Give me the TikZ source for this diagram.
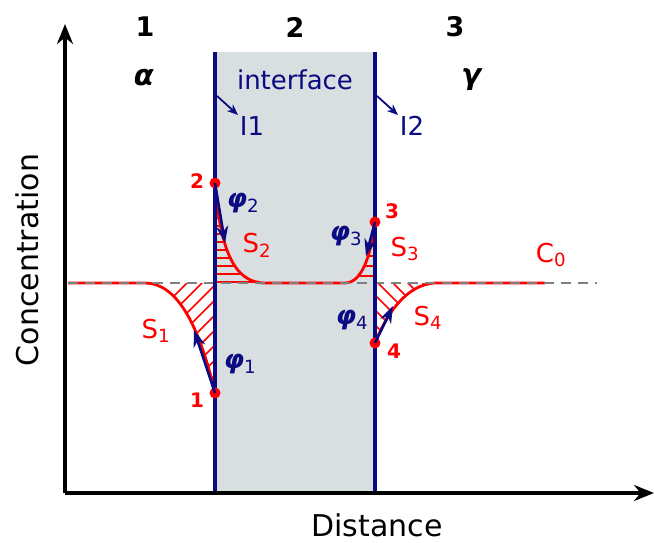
\documentclass[tikz,border=0pt]{standalone}
\usepackage{fontspec}
\setmainfont{DejaVu Sans}
\usetikzlibrary{arrows.meta}
\definecolor{wallblue}{RGB}{10,10,130}
\definecolor{layergray}{RGB}{217,222,225}
\definecolor{profred}{RGB}{255,0,0}
\definecolor{refgray}{RGB}{128,128,128}

\newcommand{\phibf}{\textbf{\textit{φ}}}

\begin{document}
\begin{tikzpicture}[
  x=1pt, y=-1pt,
  >=Stealth,
  axis/.style={line width=4pt, -{Stealth[length=20pt, width=16pt]}},
  wall/.style={wallblue, line width=3.8pt},
  profile/.style={profred, line width=2.8pt},
  level/.style={refgray, line width=2.3pt, dash pattern=on 10pt off 7pt},
  flux/.style={wallblue, line width=2.6pt, -{Stealth[length=17pt, width=12pt]}},
  pointer/.style={wallblue, line width=1.8pt, -{Stealth[length=11pt, width=9pt]}},
  hatch/.style={profred, line width=1.5pt},
  dot/.style={circle, fill=profred, inner sep=0pt, minimum size=11pt},
  ptnum/.style={text=profred, font=\fontsize{20}{24}\selectfont\bfseries},
  region/.style={font=\fontsize{27}{32}\selectfont\bfseries},
  surf/.style={text=profred, font=\fontsize{26}{30}\selectfont},
  fluxlab/.style={text=wallblue, font=\fontsize{26}{30}\selectfont},
  axislab/.style={font=\fontsize{30}{35}\selectfont},
]
\useasboundingbox[fill=white] (0,0) rectangle (654,543);

% interface layer
\fill[layergray] (215,52) rectangle (375,493);

% hatched areas S1..S4
\begin{scope}
  \clip (215,283) -- (145,283) .. controls (175,283) and (198,320) .. (215,393) -- cycle;
  \foreach \k in {0,...,10}
    \draw[hatch] (70+\k*15,400) -- ++(140,-140);
\end{scope}
\begin{scope}
  \clip (215,183) .. controls (220,245) and (232,283) .. (265,283) -- (215,283) -- cycle;
  \foreach \h in {186,194,...,282}
    \draw[hatch] (210,\h) -- (270,\h);
\end{scope}
\begin{scope}
  \clip (345,283) .. controls (362,283) and (371,255) .. (375,222) -- (375,283) -- cycle;
  \foreach \h in {226,236,...,276}
    \draw[hatch] (340,\h) -- (380,\h);
\end{scope}
\begin{scope}
  \clip (375,343) .. controls (385,318) and (405,283) .. (437,283) -- (375,283) -- cycle;
  \foreach \k in {0,...,10}
    \draw[hatch] (300+\k*15,250) -- ++(120,120);
\end{scope}

% concentration profile
\draw[profile] (68,283) -- (145,283) .. controls (175,283) and (198,320) .. (215,393);
\draw[profile] (215,183) .. controls (220,245) and (232,283) .. (265,283) -- (345,283)
  .. controls (362,283) and (371,255) .. (375,222);
\draw[profile] (375,343) .. controls (385,318) and (405,283) .. (437,283) -- (545,283);
\draw[level] (68,283) -- (597,283);

% interfaces I1, I2
\draw[wall] (215,52) -- (215,493);
\draw[wall] (375,52) -- (375,493);

% axes
\coordinate (origin) at (65,493);
\coordinate (ytop) at (65,24);
\coordinate (xend) at (654,493);
\draw[axis] (origin) -- (ytop);
\draw[axis] (origin) -- (xend);
\node[axislab, rotate=90] (conc) at (27,260) {Concentration};
\node[axislab] (dist) at (377,525) {Distance};

% phases
\node[region] (ph1) at (145,27) {1};
\node[region] (ph2) at (295,27) {2};
\node[region] (ph3) at (455,27) {3};
\node[region, font=\fontsize{29}{34}\selectfont\bfseries] (alpha) at (144,78) {\textit{α}};
\node[region, font=\fontsize{29}{34}\selectfont\bfseries] (gamma) at (472,80) {\textit{γ}};
\node[fluxlab] (iface) at (295,80) {interface};

% interface labels
\node[fluxlab] (i1) at (252,126) {I1};
\node[fluxlab] (i2) at (412,126) {I2};
\coordinate (w1) at (217,96);
\coordinate (w2) at (377,96);
\draw[pointer] (w1) -- (238,115);
\draw[pointer] (w2) -- (398,115);

% points on the profile
\node[dot] (p1) at (215,393) {};
\node[dot] (p2) at (215,183) {};
\node[dot] (p3) at (375,222) {};
\node[dot] (p4) at (375,343) {};
\node[ptnum] (n1) at (197,400) {1};
\node[ptnum] (n2) at (197,181) {2};
\node[ptnum] (n3) at (392,211) {3};
\node[ptnum] (n4) at (394,351) {4};

% fluxes
\coordinate (f1) at (194,330);
\coordinate (f2) at (225,243);
\coordinate (f3) at (366,256);
\coordinate (f4) at (393,306);
\draw[flux] (p1.center) -- (f1);
\draw[flux] (p2.center) -- (f2);
\draw[flux] (p3.center) -- (f3);
\draw[flux] (p4.center) -- (f4);
\node[fluxlab] (phi1) at (240,364) {\phibf\textsubscript{1}};
\node[fluxlab] (phi2) at (243,203) {\phibf\textsubscript{2}};
\node[fluxlab] (phi3) at (346,236) {\phibf\textsubscript{3}};
\node[fluxlab] (phi4) at (352,320) {\phibf\textsubscript{4}};

% surface labels
\node[surf] (s1) at (156,331) {S\textsubscript{1}};
\node[surf] (s2) at (257,245) {S\textsubscript{2}};
\node[surf] (s3) at (405,249) {S\textsubscript{3}};
\node[surf] (s4) at (428,318) {S\textsubscript{4}};
\node[surf] (c0) at (551,255) {C\textsubscript{0}};
\end{tikzpicture}
\end{document}
